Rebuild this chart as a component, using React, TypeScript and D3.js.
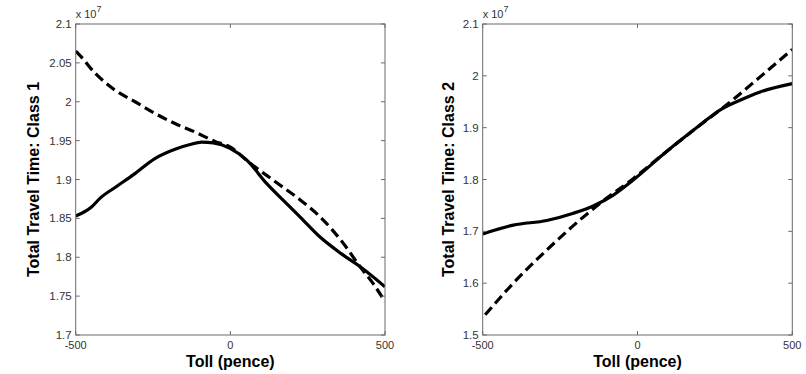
import React from "react";
import * as d3 from "d3";

// ---- Data ----
const left_toll_dashed = [-500, -492, -438, -373, -308, -244, -179, -114, -50, -1, 64, 139, 225, 290, 365, 419, 462, 500];
const left_val_dashed = [2.065, 2.062, 2.037, 2.015, 2.0, 1.985, 1.972, 1.961, 1.949, 1.942, 1.921, 1.899, 1.874, 1.852, 1.818, 1.788, 1.766, 1.743];
const left_toll_solid = [-500, -448, -421, -368, -314, -244, -179, -130, -93, -55, -1, 53, 117, 182, 225, 290, 357, 419, 500];
const left_val_solid = [1.853, 1.865, 1.876, 1.891, 1.906, 1.927, 1.939, 1.945, 1.948, 1.947, 1.94, 1.925, 1.895, 1.869, 1.852, 1.826, 1.805, 1.788, 1.762];

const right_toll_dashed = [-492, -401, -293, -186, -121, -13, 94, 202, 288, 396, 500];
const right_val_dashed = [1.539, 1.6, 1.664, 1.722, 1.754, 1.802, 1.854, 1.905, 1.944, 1.998, 2.051];
const right_toll_solid = [-500, -401, -293, -207, -143, -78, -14, 94, 202, 266, 331, 396, 500];
const right_val_solid = [1.695, 1.712, 1.721, 1.735, 1.749, 1.77, 1.799, 1.854, 1.905, 1.934, 1.953, 1.969, 1.985];

const xTicks = [-500, 0, 500];
const xTickLabels = ["-500", "0", "500"];
const leftYTicks = [1.7, 1.75, 1.8, 1.85, 1.9, 1.95, 2.0, 2.05, 2.1];
const leftYTickLabels = ["1.7", "1.75", "1.8", "1.85", "1.9", "1.95", "2", "2.05", "2.1"];
const rightYTicks = [1.5, 1.6, 1.7, 1.8, 1.9, 2.0, 2.1];
const rightYTickLabels = ["1.5", "1.6", "1.7", "1.8", "1.9", "2", "2.1"];

const FONT = "'Liberation Sans', Arial, Helvetica, sans-serif";
const AXIS = "#6a6a6a";

type PanelProps = {
  x0: number; x1: number; y0: number; y1: number;
  yDomain: [number, number];
  yTicks: number[]; yTickLabels: string[];
  ylabel: string;
  ylabelX: number;
  dashedX: number[]; dashedY: number[];
  solidX: number[]; solidY: number[];
};

function Panel(p: PanelProps) {
  const x = d3.scaleLinear().domain([-500, 500]).range([p.x0, p.x1]);
  const y = d3.scaleLinear().domain(p.yDomain).range([p.y1, p.y0]);
  const line = d3
    .line<[number, number]>()
    .x((d) => x(d[0]))
    .y((d) => y(d[1]))
    .curve(d3.curveMonotoneX);
  const dashed = line(p.dashedX.map((v, i) => [v, p.dashedY[i]]) as [number, number][]) || "";
  const solid = line(p.solidX.map((v, i) => [v, p.solidY[i]]) as [number, number][]) || "";
  const tl = 4;
  const cx = (p.x0 + p.x1) / 2;
  const cy = (p.y0 + p.y1) / 2;
  return (
    <g>
      <defs>
        <clipPath id={"clip" + Math.round(p.x0)}>
          <rect x={p.x0} y={p.y0} width={p.x1 - p.x0} height={p.y1 - p.y0} />
        </clipPath>
      </defs>
      <g clipPath={`url(#clip${Math.round(p.x0)})`}>
        <path d={dashed} fill="none" stroke="#000" strokeWidth={3.2} strokeDasharray="10 5" />
        <path d={solid} fill="none" stroke="#000" strokeWidth={3.2} />
      </g>
      <rect x={p.x0} y={p.y0} width={p.x1 - p.x0} height={p.y1 - p.y0} fill="none" stroke={AXIS} strokeWidth={1} />
      {p.yTicks.map((t, i) => (
        <g key={"y" + i}>
          <line x1={p.x0} x2={p.x0 + tl} y1={y(t)} y2={y(t)} stroke={AXIS} />
          <line x1={p.x1} x2={p.x1 - tl} y1={y(t)} y2={y(t)} stroke={AXIS} />
          <text x={p.x0 - 4} y={y(t)} dy="0.35em" textAnchor="end" fontFamily={FONT} fontSize={11.5} fill="#333">
            {p.yTickLabels[i]}
          </text>
        </g>
      ))}
      {xTicks.map((t, i) => (
        <g key={"x" + i}>
          <line x1={x(t)} x2={x(t)} y1={p.y1} y2={p.y1 - tl} stroke={AXIS} />
          <line x1={x(t)} x2={x(t)} y1={p.y0} y2={p.y0 + tl} stroke={AXIS} />
          <text x={x(t)} y={p.y1 + 14} textAnchor="middle" fontFamily={FONT} fontSize={11} fill="#333">
            {xTickLabels[i]}
          </text>
        </g>
      ))}
      <text x={p.x0} y={18} fontFamily={FONT} fontSize={11} fill="#333">
        x 10
        <tspan dy={-6} fontSize={9}>7</tspan>
      </text>
      <text x={cx} y={367} textAnchor="middle" fontFamily={FONT} fontSize={16} fontWeight="bold" fill="#000">
        Toll (pence)
      </text>
      <text
        transform={`translate(${p.ylabelX},${cy}) rotate(-90)`}
        textAnchor="middle"
        fontFamily={FONT}
        fontSize={16}
        fontWeight="bold"
        fill="#000"
      >
        {p.ylabel}
      </text>
    </g>
  );
}

export default function App() {
  return (
    <svg width={806} height={374} style={{ position: "absolute", left: 0, top: 0, background: "#fff" }}>
      <rect width={806} height={374} fill="#fff" />
      <Panel
        x0={75.7} x1={385} y0={24} y1={335}
        yDomain={[1.7, 2.1]}
        yTicks={leftYTicks} yTickLabels={leftYTickLabels}
        ylabel="Total Travel Time: Class 1"
        ylabelX={39}
        dashedX={left_toll_dashed} dashedY={left_val_dashed}
        solidX={left_toll_solid} solidY={left_val_solid}
      />
      <Panel
        x0={482.7} x1={792.3} y0={24} y1={335}
        yDomain={[1.5, 2.1]}
        yTicks={rightYTicks} yTickLabels={rightYTickLabels}
        ylabel="Total Travel Time: Class 2"
        ylabelX={454}
        dashedX={right_toll_dashed} dashedY={right_val_dashed}
        solidX={right_toll_solid} solidY={right_val_solid}
      />
    </svg>
  );
}
